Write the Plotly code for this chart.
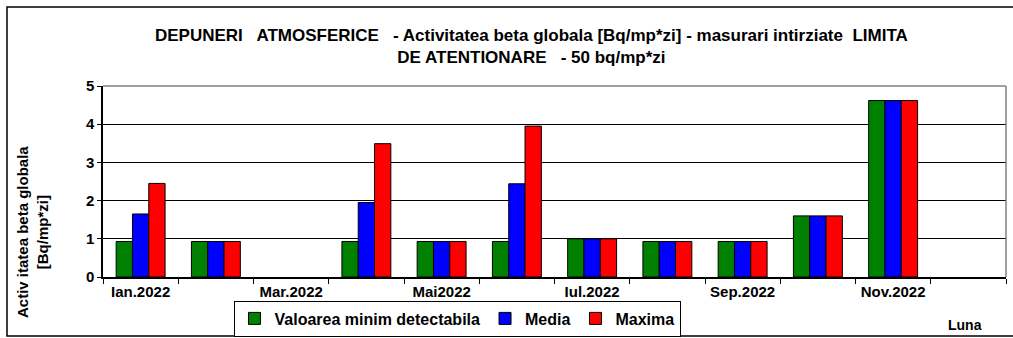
import plotly.graph_objects as go

months = ["Ian.2022", "Feb.2022", "Mar.2022", "Apr.2022", "Mai2022", "Iun.2022",
          "Iul.2022", "Aug.2022", "Sep.2022", "Oct.2022", "Nov.2022", "Dec.2022"]
tick_labels = ["Ian.2022", "", "Mar.2022", "", "Mai2022", "",
               "Iul.2022", "", "Sep.2022", "", "Nov.2022", ""]
min_detect = [0.93, 0.93, None, 0.93, 0.93, 0.93, 1.0, 0.93, 0.93, 1.6, 4.62, None]
media = [1.65, 0.93, None, 1.95, 0.93, 2.44, 1.0, 0.93, 0.93, 1.6, 4.62, None]
maxima = [2.45, 0.93, None, 3.49, 0.93, 3.95, 1.0, 0.93, 0.93, 1.6, 4.62, None]

series = [("Valoarea minim detectabila", min_detect, "#008000"),
          ("Media", media, "#0000FF"),
          ("Maxima", maxima, "#FF0000")]

FONT = "Liberation Sans, Arial, sans-serif"
W, H = 1013, 338
L, R, T, B = 103, 1006, 86, 277

def px(x):
    return (x - L) / (R - L)

def py(y):
    return (B - y) / (B - T)

fig = go.Figure()
for name, vals, col in series:
    fig.add_trace(go.Bar(x=months, y=vals, name=name,
                         marker=dict(color=col, line=dict(color="black", width=1))))

fig.update_layout(
    width=W, height=H,
    margin=dict(l=L, r=W - R, t=T, b=H - B, pad=0, autoexpand=False),
    paper_bgcolor="white", plot_bgcolor="white",
    font=dict(family=FONT, color="black"),
    barmode="group", bargap=0.35, bargroupgap=0,
    showlegend=True,
    legend=dict(orientation="h", xref="container", yref="container",
                x=457 / W, xanchor="center", y=1 - 318.5 / H, yanchor="middle",
                bordercolor="black", borderwidth=1, bgcolor="white",
                font=dict(family=FONT, size=16, weight="bold"),
                itemwidth=30, tracegroupgap=0),
)

fig.update_xaxes(type="category", categoryorder="array", categoryarray=months,
                 tickmode="array", tickvals=months, ticktext=tick_labels,
                 tickson="boundaries", ticks="outside", ticklen=5, tickcolor="black",
                 showline=True, linecolor="black", linewidth=1.5, showgrid=False,
                 automargin=False,
                 tickfont=dict(family=FONT, size=15, weight="bold"))
fig.update_yaxes(range=[0, 5], dtick=1, tick0=0, ticks="outside", ticklen=4,
                 tickcolor="black", showline=True, linecolor="black", linewidth=1.5,
                 showgrid=True, gridcolor="black", gridwidth=1, zeroline=False,
                 automargin=False,
                 tickfont=dict(family=FONT, size=15, weight="bold"))

# plot area border (top and right, gray)
fig.add_shape(type="line", xref="paper", yref="paper", x0=0, x1=1, y0=1, y1=1,
              line=dict(color="#808080", width=1.5), layer="above")
fig.add_shape(type="line", xref="paper", yref="paper", x0=1, x1=1, y0=0, y1=1,
              line=dict(color="#808080", width=1.5), layer="above")
# outer chart frame
fig.add_shape(type="rect", xref="paper", yref="paper",
              x0=px(7), x1=px(1030), y0=py(336), y1=py(7),
              line=dict(color="black", width=1.5), layer="below")

fig.add_annotation(xref="paper", yref="paper", x=px(531), y=py(47),
                   xanchor="center", yanchor="middle", showarrow=False, align="center",
                   text="DEPUNERI   ATMOSFERICE   - Activitatea beta globala [Bq/mp*zi] - masurari intirziate  LIMITA<br>DE ATENTIONARE   - 50 bq/mp*zi",
                   font=dict(family=FONT, size=17, weight="bold"))
fig.add_annotation(xref="paper", yref="paper", x=px(32), y=py(232),
                   xanchor="center", yanchor="middle", showarrow=False, align="center",
                   textangle=-90,
                   text="Activ itatea beta globala<br>[Bq/mp*zi]",
                   font=dict(family=FONT, size=15, weight="bold"))
fig.add_annotation(xref="paper", yref="paper", x=px(965), y=py(325),
                   xanchor="center", yanchor="middle", showarrow=False,
                   text="Luna", font=dict(family=FONT, size=14, weight="bold"))

fig.write_html("out.html", config={"displayModeBar": False},
               post_script="document.body.style.margin='0px';")
